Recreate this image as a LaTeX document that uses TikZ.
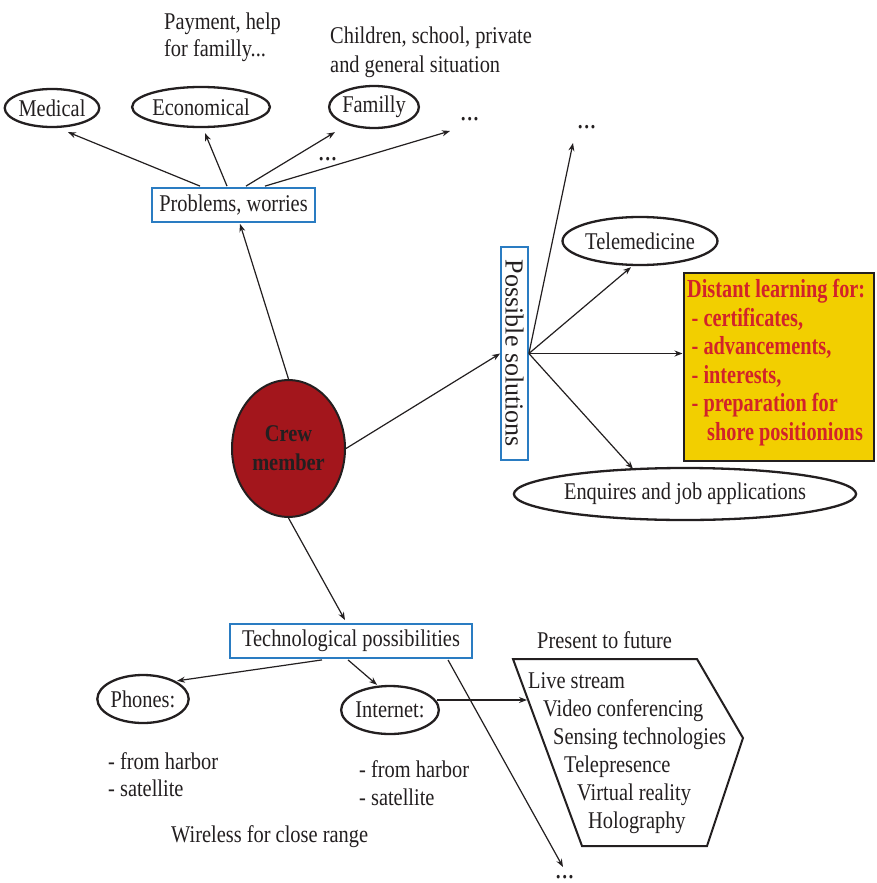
\documentclass[tikz,border=0pt]{standalone}
\usepackage{fontspec}
\setmainfont{Liberation Serif}[FakeStretch=0.85]
\newfontfamily\plainserif{Liberation Serif}
\newfontfamily\dlfont{Liberation Serif}[FakeStretch=0.78]
\usetikzlibrary{shapes.geometric,arrows.meta,calc}
\definecolor{txt}{HTML}{231F20}
\definecolor{boxblue}{HTML}{2A7CC2}
\definecolor{crewred}{HTML}{A3161C}
\definecolor{dlyellow}{HTML}{F2CF00}
\definecolor{dlred}{HTML}{D2232A}
\begin{document}
\begin{tikzpicture}[x=1pt,y=-1pt,
 every node/.style={font=\fontsize{24}{28}\selectfont, text=txt, inner sep=0pt},
 ell/.style={ellipse, draw=txt, line width=2.3pt},
 bbox/.style={rectangle, draw=boxblue, line width=1.8pt},
 arr/.style={draw=txt, line width=1.2pt, -{Stealth[length=8pt,width=6pt]}},
 txtl/.style={anchor=base west},
 dots/.style={anchor=base west, font=\fontsize{30}{30}\selectfont},
 blk/.style={anchor=north west, align=left},
]
\useasboundingbox (0,0) rectangle (876,883);
\fill[white] (0,0) rectangle (876,883);

% ---- top: problems
\node[blk, font=\fontsize{24}{27}\selectfont] (pay) at (164,13) {Payment, help\\for familly...};
\node[blk, font=\fontsize{24}{29}\selectfont] (chi) at (330,27) {Children, school, private\\and general situation};
\node[ell, minimum width=90pt, minimum height=38pt] (med) at (52,108) {Medical};
\node[ell, minimum width=124pt, minimum height=40pt] (eco) at (201,107) {Economical};
\node[ell, minimum width=88pt, minimum height=42pt] (fam) at (374,107) {Familly};
\node[dots] (dA) at (460,120) {...};
\node[dots] (dB) at (318,160) {...};
\node[bbox, minimum width=163pt, minimum height=34pt] (pw) at (233.5,205) {Problems, worries};

\draw[arr] ($(pw.north)+(-33.5,-1)$) -- ($(med.south)+(16,4)$);
\draw[arr] ($(pw.north)+(-6.5,-1)$) -- ($(eco.south)+(4,5)$);
\draw[arr] ($(pw.north)+(12.5,-1)$) -- ($(fam.south)+(-39,3)$);
\draw[arr] ($(pw.north)+(31.5,-1)$) -- ($(dA.base west)+(-10,11)$);

% ---- crew member
\node[ellipse, draw=txt, line width=2pt, fill=crewred, minimum width=113pt, minimum height=137pt,
      align=center, font=\bfseries\fontsize{24}{29}\selectfont] (crew) at (288.5,448.5) {Crew\\member};
\draw[arr] (crew.north) -- ($(pw.south)+(6.5,1)$);

% ---- possible solutions
\node[bbox, rotate=-90, minimum width=213pt, minimum height=27pt,
      font=\plainserif\fontsize{26}{30}\selectfont] (ps) at (514.5,353.5) {Possible solutions};
\draw[arr] (crew.east) -- (ps.south);

\node[ell, minimum width=146pt, minimum height=48pt] (tele) at (640,241) {Telemedicine};
\node[draw=txt, line width=2pt, fill=dlyellow, minimum width=190pt, minimum height=188pt] (dl) at (778.5,367) {};
\node[anchor=north west, align=left, font=\dlfont\bfseries\fontsize{26}{28.6}\selectfont, text=dlred] (dltext) at (687,279)
 {Distant learning for:\\
  \hspace*{4.5pt}- certificates,\\
  \hspace*{4.5pt}- advancements,\\
  \hspace*{4.5pt}- interests,\\
  \hspace*{4.5pt}- preparation for\\
  \hspace*{20pt}shore positionions};
\node[ell, minimum width=276pt, minimum height=52pt] (enq) at (685,494) {Enquires and job applications};
\node[dots] (dC) at (577,128) {...};

\draw[arr] (ps.north) -- ($(dC.base west)+(-4,15)$);
\draw[arr] (ps.north) -- ($(tele.south)+(-9,1)$);
\draw[arr] (ps.north) -- (ps.north -| dl.west);
\draw[arr] (ps.north) -- ($(enq.north)+(-52,2)$);

% ---- technological possibilities
\node[bbox, minimum width=242pt, minimum height=34pt] (tech) at (351,641) {Technological possibilities};
\draw[arr] (crew.south) -- ($(tech.north)+(-6,-3)$);

\node[ell, minimum width=90pt, minimum height=48pt] (ph) at (143,699) {Phones:};
\node[ell, minimum width=90pt, minimum height=48pt] (inet) at (390,710) {Internet:};
\draw[arr] ($(tech.south)+(-29,1)$) -- ($(ph.north)+(34,7)$);
\draw[arr] ($(tech.south)+(-3,1)$) -- ($(inet.north)+(-13,0)$);

\node[blk, font=\fontsize{24}{27}\selectfont] (phs) at (108,752) {- from harbor\\- satellite};
\node[blk, font=\fontsize{24}{28}\selectfont] (ins) at (359,760) {- from harbor\\- satellite};
\node[txtl] (wl) at (171,842) {Wireless for close range};

% ---- present to future
\node[txtl] (ptf) at (537,648) {Present to future};
\draw[txt, line width=2pt, line join=miter] (513,659) -- (697,659) -- (743,738) -- (707,846) -- (582,846) -- cycle;
\coordinate (hexin) at (527,700);
\draw[arr] ($(inet.east)+(-3,-10)$) -- (hexin);
\node[txtl] (h1) at (528,688) {Live stream};
\node[txtl] (h2) at (543,716) {Video conferencing};
\node[txtl] (h3) at (553,744) {Sensing technologies};
\node[txtl] (h4) at (564,772) {Telepresence};
\node[txtl] (h5) at (577,800) {Virtual reality};
\node[txtl] (h6) at (588,828) {Holography};

\node[dots] (dD) at (555,878) {...};
\draw[arr] ($(tech.south)+(97,1)$) -- ($(dD.base west)+(8,-11)$);
\end{tikzpicture}
\end{document}
